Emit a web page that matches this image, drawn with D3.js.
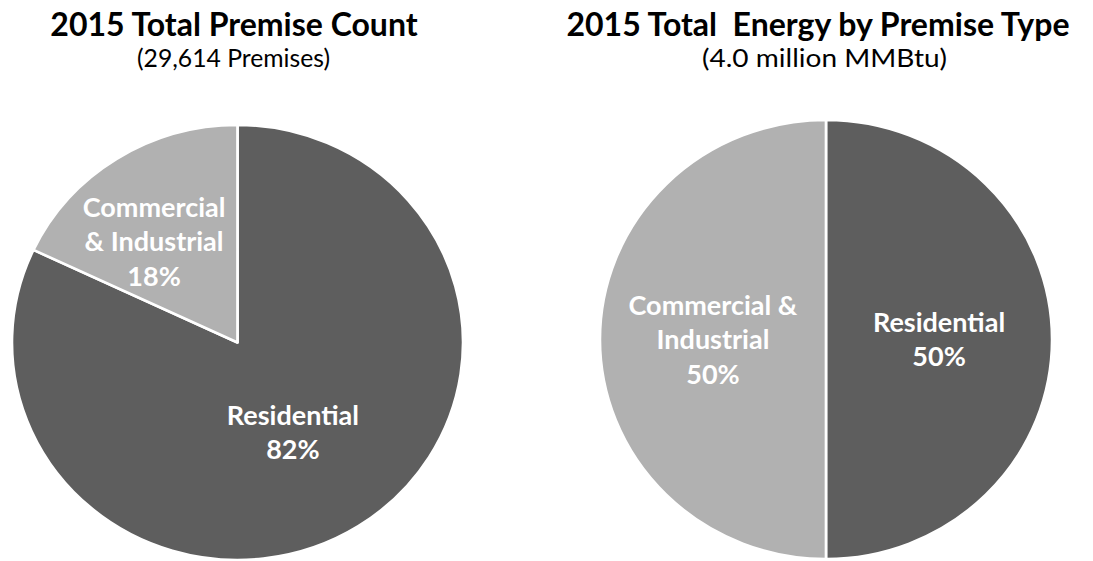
<!DOCTYPE html>
<html>
<head>
<meta charset="utf-8">
<script src="https://cdn.jsdelivr.net/npm/d3@7"></script>
<style>
  body { margin: 0; background: #ffffff; }
  svg { display: block; }
</style>
</head>
<body>
<svg id="chart" width="1093" height="561"></svg>
<script>
// ---- data ----
const categories = ["Residential", "Commercial & Industrial"];
const premiseShares = [82, 18];          // % of 29,614 premises
const energyShares = [50, 50];           // % of 4.0 million MMBtu
const titles = ["2015 Total Premise Count", "2015 Total\u00a0 Energy by Premise Type"];
const subtitles = ["(29,614 Premises)", "(4.0 million MMBtu)"];
const premiseLabelLines = [["Residential"], ["Commercial", "& Industrial"]];
const energyLabelLines = [["Residential"], ["Commercial &", "Industrial"]];

// ---- styling / layout ----
const colour = d3.scaleOrdinal().domain(categories).range(["#5e5e5e", "#b1b1b1"]);
const FONT = "Lato, 'Open Sans', 'DejaVu Sans', sans-serif";

const panels = [
  {
    shares: premiseShares, lines: premiseLabelLines,
    title: titles[0], subtitle: subtitles[0],
    cx: 237.5, cy: 342.5, r: 217.5, sx: 1.037,
    titleX: 234, subX: 233.5, subW: 193,
    nudge: [[-5, -2], [-23, -9]]
  },
  {
    shares: energyShares, lines: energyLabelLines,
    title: titles[1], subtitle: subtitles[1],
    cx: 826, cy: 339.5, r: 219.5, sx: 1.03,
    titleX: 818, subX: 824.5, subW: 245,
    nudge: [[0, 0], [0, 0]]
  }
];

const svg = d3.select("#chart");
const pie = d3.pie().sort(null).value(d => d.value);
const labelSize = 27, lineH = 34.5, capHalf = 0.72 * labelSize / 2;

panels.forEach(p => {
  const data = categories.map((c, i) => ({ name: c, value: p.shares[i], lines: p.lines[i], nudge: p.nudge[i] }));
  const arcs = pie(data);
  const arc = d3.arc().innerRadius(0).outerRadius(p.r);

  // titles
  svg.append("text")
    .attr("x", p.titleX).attr("y", 36)
    .attr("text-anchor", "middle")
    .style("font-family", FONT).style("font-weight", 700).style("font-size", "32px")
    .style("fill", "#000").style("white-space", "pre")
    .text(p.title);
  svg.append("text")
    .attr("x", p.subX).attr("y", 67)
    .attr("text-anchor", "middle")
    .attr("textLength", p.subW).attr("lengthAdjust", "spacingAndGlyphs")
    .style("font-family", FONT).style("font-weight", 400).style("font-size", "25px")
    .style("fill", "#000")
    .text(p.subtitle);

  // slices (slightly wider than tall)
  const g = svg.append("g")
    .attr("transform", `translate(${p.cx},${p.cy}) scale(${p.sx},1)`);
  g.selectAll("path")
    .data(arcs)
    .join("path")
    .attr("d", arc)
    .attr("fill", d => colour(d.data.name))
    .attr("stroke", "#ffffff")
    .attr("stroke-width", 2.6)
    .attr("stroke-linejoin", "round");

  // data labels
  arcs.forEach(a => {
    const [x0, y0] = arc.centroid(a);
    const ax = p.cx + x0 * p.sx + a.data.nudge[0];
    const ay = p.cy + y0 + a.data.nudge[1];
    const rows = a.data.lines.concat([`${a.data.value}%`]);
    const t = svg.append("text")
      .attr("text-anchor", "middle")
      .style("font-family", FONT).style("font-weight", 700)
      .style("font-size", labelSize + "px").style("fill", "#ffffff");
    rows.forEach((row, i) => {
      t.append("tspan")
        .attr("x", ax)
        .attr("y", ay + (i - (rows.length - 1) / 2) * lineH + capHalf)
        .text(row);
    });
  });
});
</script>
</body>
</html>
